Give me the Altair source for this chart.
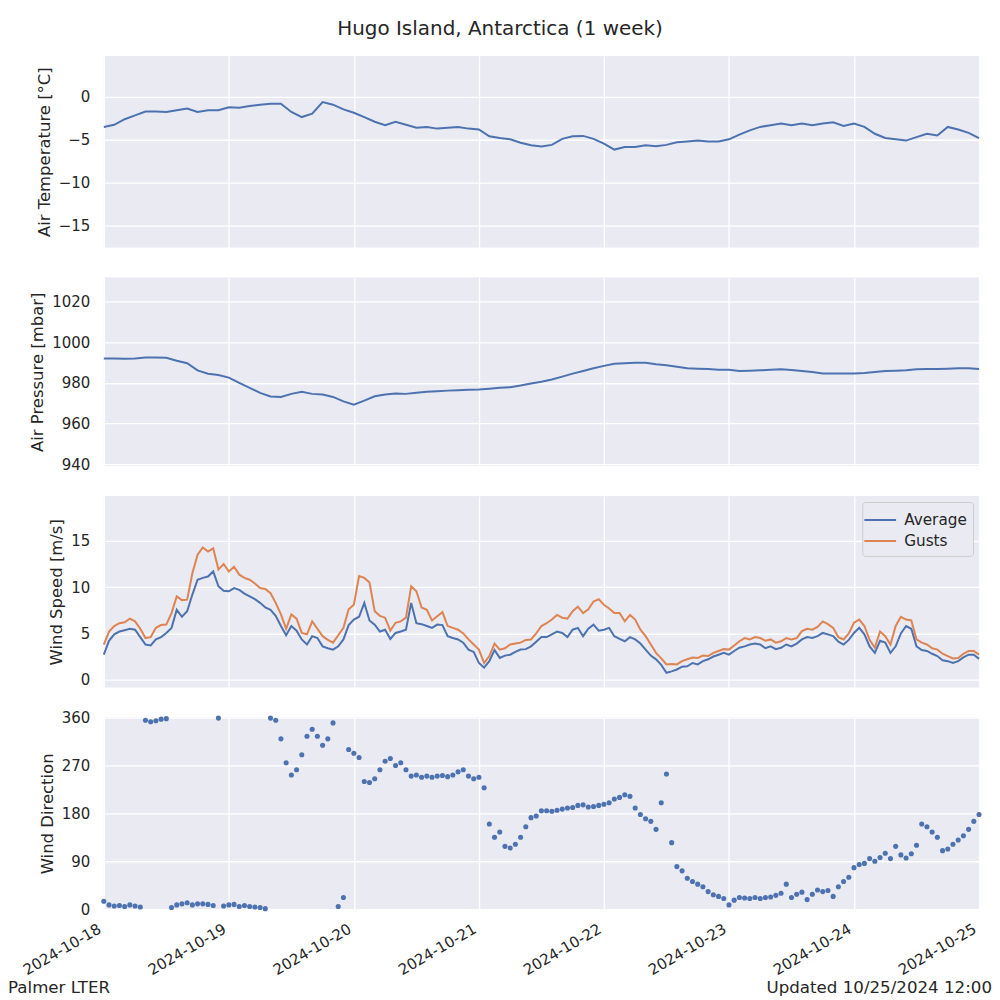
import altair as alt
import pandas as pd
from datetime import datetime, timedelta

# ---------------- data ----------------
HOURS_2 = list(range(0, 169, 2))   # 2-hourly samples
HOURS_1 = list(range(0, 169))      # hourly samples

temperature = [
    -3.5, -3.25, -2.6, -2.15, -1.7, -1.7, -1.75, -1.55, -1.35, -1.75, -1.55, -1.55,
    -1.2, -1.25, -1.05, -0.9, -0.8, -0.8, -1.75, -2.35, -1.95, -0.6, -0.9, -1.45,
    -1.85, -2.35, -2.9, -3.3, -2.9, -3.25, -3.6, -3.5, -3.7, -3.6, -3.5, -3.7,
    -3.8, -4.6, -4.8, -4.95, -5.35, -5.65, -5.8,
    -5.6, -4.9, -4.6, -4.55, -4.9, -5.45, -6.15, -5.85, -5.85, -5.65, -5.75, -5.6,
    -5.3, -5.2, -5.1, -5.2, -5.2, -4.95, -4.4, -3.9, -3.5, -3.3, -3.1, -3.3,
    -3.1, -3.3, -3.1, -2.95, -3.4, -3.1, -3.5, -4.3, -4.8, -4.95, -5.1, -4.7,
    -4.3, -4.5, -3.5, -3.8, -4.2, -4.8,
]

pressure = [
    992.0, 992.0, 991.9, 992.0, 992.5, 992.5, 992.4, 990.9, 989.7, 986.2, 984.5, 983.9,
    982.6, 980.0, 977.6, 975.1, 973.3, 973.1, 974.6, 975.6, 974.6, 974.3, 973.1, 970.9,
    969.3, 971.3, 973.4, 974.3, 974.8, 974.6, 975.1, 975.6, 975.9, 976.2, 976.4, 976.6,
    976.7, 977.1, 977.6, 977.9, 978.7, 979.7, 980.6,
    981.7, 983.1, 984.6, 985.9, 987.2, 988.4, 989.5, 989.7, 989.9, 989.9, 989.2, 988.7,
    988.0, 987.2, 987.0, 986.9, 986.5, 986.5, 985.9, 986.0, 986.2, 986.5, 986.7, 986.4,
    985.9, 985.4, 984.7, 984.6, 984.6, 984.6, 984.9, 985.4, 985.9, 986.0, 986.2, 986.7,
    986.9, 986.9, 987.0, 987.2, 987.2, 986.9,
]

# hourly wind speed, average and gusts [m/s]
wind_avg = [
    2.7, 4.2, 4.9, 5.2, 5.35, 5.5, 5.4, 4.6, 3.8, 3.7, 4.35, 4.6,
    5.05, 5.6, 7.55, 6.8, 7.4, 9.2, 10.8, 11.0, 11.15, 11.7, 10.1, 9.6,
    9.55, 9.9, 9.7, 9.3, 9.0, 8.7, 8.3, 7.8, 7.55, 6.9, 5.8, 4.8,
    5.8, 5.3, 4.35, 3.8, 4.7, 4.5, 3.6, 3.4, 3.25, 3.6, 4.35, 5.9,
    6.5, 6.8, 8.3, 6.4, 5.95, 5.2, 5.4, 4.4, 5.05, 5.2, 5.4, 8.3,
    6.1, 6.0, 5.8, 5.6, 5.95, 5.9, 4.7, 4.5, 4.35, 4.0, 3.25, 3.0,
    1.8, 1.3, 2.0, 3.2, 2.35, 2.6, 2.7, 3.0, 3.25, 3.3, 3.6, 4.1,
    4.6, 4.6, 4.9, 5.2, 5.05, 4.6, 5.4, 5.6, 4.7, 5.5, 5.95, 5.3,
    5.4, 5.6, 4.7, 4.4, 4.15, 4.6, 4.35, 3.9, 3.25, 2.6, 2.2, 1.6,
    0.75, 0.9, 1.1, 1.4, 1.45, 1.8, 1.65, 2.0, 2.2, 2.5, 2.7, 2.9,
    2.7, 3.1, 3.45, 3.6, 3.8, 3.9, 3.8, 3.4, 3.6, 3.3, 3.45, 3.8,
    3.6, 3.9, 4.35, 4.6, 4.5, 4.7, 5.05, 4.9, 4.7, 4.1, 3.8, 4.3,
    5.05, 5.6, 4.9, 3.6, 2.9, 4.2, 4.0, 2.9, 3.6, 5.0, 5.8, 5.5,
    3.6, 3.2, 3.1, 2.8, 2.55, 2.1, 2.0, 1.8, 2.0, 2.4, 2.7, 2.7,
    2.25,
]

wind_gust = [
    3.8, 5.2, 5.8, 6.1, 6.2, 6.6, 6.3, 5.5, 4.5, 4.6, 5.6, 5.9,
    5.95, 7.2, 9.0, 8.6, 8.65, 11.5, 13.5, 14.3, 13.85, 14.2, 11.9, 12.5,
    11.7, 12.2, 11.35, 11.0, 10.8, 10.4, 9.9, 9.8, 9.35, 8.3, 7.05, 5.5,
    7.05, 6.6, 5.05, 4.9, 6.3, 5.5, 4.7, 4.3, 4.0, 4.8, 5.6, 7.6,
    8.1, 11.2, 11.0, 10.5, 7.4, 6.9, 6.7, 5.3, 6.15, 6.3, 6.7, 10.1,
    9.55, 7.8, 7.55, 6.4, 6.85, 7.3, 5.8, 5.6, 5.4, 5.0, 4.35, 3.8,
    3.25, 1.8, 2.55, 3.9, 3.25, 3.4, 3.8, 3.9, 4.0, 4.3, 4.35, 5.0,
    5.8, 6.1, 6.5, 7.0, 6.7, 6.6, 7.4, 7.9, 7.2, 7.6, 8.45, 8.7,
    8.1, 7.7, 7.2, 7.2, 6.3, 7.0, 6.5, 5.4, 4.7, 3.8, 2.9, 2.3,
    1.65, 1.7, 1.65, 2.0, 2.2, 2.4, 2.35, 2.6, 2.55, 2.9, 3.1, 3.3,
    3.25, 3.7, 4.15, 4.5, 4.35, 4.6, 4.5, 4.2, 4.35, 4.0, 4.15, 4.5,
    4.35, 4.5, 5.25, 5.5, 5.4, 5.7, 6.3, 6.0, 5.6, 4.6, 4.35, 5.0,
    6.15, 6.5, 5.8, 4.3, 3.45, 5.2, 4.7, 3.8, 5.8, 6.8, 6.5, 6.4,
    4.35, 4.0, 3.8, 3.4, 3.25, 2.8, 2.55, 2.3, 2.35, 2.8, 3.1, 3.1,
    2.7,
]

# hourly wind direction [deg]
wind_dir = [
    15, 8, 6, 7, 5, 8, 6, 4, 355, 352,
    354, 357, 358, 3, 8, 10, 12, 8, 10, 10,
    9, 7, 359, 6, 8, 9, 5, 7, 5, 4,
    3, 1, 359, 355, 320, 275, 252, 262, 290, 325,
    338, 325, 308, 320, 350, 5, 22, 300, 293, 285,
    240, 238, 245, 262, 278, 283, 270, 275, 262, 250,
    252, 248, 250, 248, 250, 251, 249, 252, 258, 262,
    250, 245, 248, 228, 160, 135, 145, 118, 115, 122,
    135, 155, 172, 175, 185, 185, 184, 186, 188, 190,
    191, 195, 196, 192, 193, 195, 197, 200, 207, 210,
    215, 212, 190, 178, 170, 165, 150, 200, 254, 125,
    80, 72, 58, 52, 47, 42, 33, 27, 24, 20,
    8, 17, 22, 21, 20, 22, 20, 22, 23, 26,
    30, 47, 22, 28, 32, 18, 28, 36, 33, 35,
    24, 42, 52, 60, 78, 84, 86, 95, 90, 97,
    105, 95, 118, 102, 96, 104, 120, 160, 155, 145,
    135, 110, 113, 122, 130, 138, 150, 165, 178,
]

DAYS = [18, 19, 20, 21, 22, 23, 24, 25]
SERIES = ["Average", "Gusts"]
TITLE = "Hugo Island, Antarctica (1 week)"
FOOT_LEFT = "Palmer LTER"
FOOT_RIGHT = "Updated 10/25/2024 12:00"

# ---------------- tables ----------------
BASE = datetime(2024, 10, 18)


def ts(h):
    return (BASE + timedelta(hours=h)).strftime("%Y-%m-%dT%H:%M:%SZ")


df_t = pd.DataFrame({"time": [ts(h) for h in HOURS_2], "v": temperature})
df_p = pd.DataFrame({"time": [ts(h) for h in HOURS_2], "v": pressure})
df_w = pd.DataFrame({
    "time": [ts(h) for h in HOURS_1] * 2,
    "v": wind_avg + wind_gust,
    "series": [SERIES[0]] * len(HOURS_1) + [SERIES[1]] * len(HOURS_1),
})
df_d = pd.DataFrame({"time": [ts(h) for h in HOURS_1], "v": wind_dir})

# ---------------- style ----------------
BLUE = "#4C72B0"
ORANGE = "#DD8452"
TXT = "#262626"
W, H = 877, 192

day_vals = [alt.DateTime(year=2024, month=10, date=d, utc=True) for d in DAYS]
x_scale = alt.Scale(type="utc", domain=[day_vals[0], day_vals[-1]])

x_hidden = alt.X("time:T", scale=x_scale,
                 axis=alt.Axis(values=day_vals, labels=False, title=None, grid=True,
                               domain=False, ticks=False, minExtent=0, maxExtent=0,
                               labelPadding=0))
x_shown = alt.X("time:T", scale=x_scale,
                axis=alt.Axis(values=day_vals, format="%Y-%m-%d", labelAngle=-30,
                              labelAlign="right", labelBaseline="top", title=None,
                              grid=True, domain=False, ticks=False,
                              labelPadding=12, labelOffset=-8))


def yax(title, values, fmt="d"):
    return alt.Axis(title=title, values=values, format=fmt, grid=True, domain=False,
                    ticks=False, labelPadding=14, titlePadding=6)


temp_chart = alt.Chart(df_t).mark_line(color=BLUE, strokeWidth=2).encode(
    x=x_hidden,
    y=alt.Y("v:Q", scale=alt.Scale(domain=[-17.6, 4.8], nice=False, zero=False),
            axis=yax("Air Temperature [°C]", [-15, -10, -5, 0])),
).properties(width=W, height=H)

pres_chart = alt.Chart(df_p).mark_line(color=BLUE, strokeWidth=2).encode(
    x=x_hidden,
    y=alt.Y("v:Q", scale=alt.Scale(domain=[939, 1032], nice=False, zero=False),
            axis=yax("Air Pressure [mbar]", [940, 960, 980, 1000, 1020])),
).properties(width=W, height=H - 3)

wind_chart = alt.Chart(df_w).mark_line(strokeWidth=2).encode(
    x=x_hidden,
    y=alt.Y("v:Q", scale=alt.Scale(domain=[-0.86, 19.85], nice=False, zero=False),
            axis=yax("Wind Speed [m/s]", [0, 5, 10, 15])),
    color=alt.Color("series:N",
                    scale=alt.Scale(domain=SERIES, range=[BLUE, ORANGE]),
                    legend=alt.Legend(title=None, orient="top-right", offset=6,
                                      fillColor="#EAEAF2", strokeColor="#CCCCCC",
                                      cornerRadius=3, padding=6, labelFontSize=15.3,
                                      labelColor=TXT, symbolType="M-1.5,0H1.5",
                                      symbolSize=450, symbolStrokeWidth=2,
                                      labelOffset=12, rowPadding=0)),
).properties(width=W, height=H)

dir_points = alt.Chart(df_d).mark_circle(size=26, opacity=1, color=BLUE).encode(
    x=x_shown,
    y=alt.Y("v:Q", scale=alt.Scale(domain=[0, 360], nice=False, zero=False),
            axis=yax("Wind Direction", [0, 90, 180, 270, 360])),
)

foot_l = alt.Chart(pd.DataFrame({"t": [FOOT_LEFT]})).mark_text(
    align="left", baseline="alphabetic", fontSize=16.7, color=TXT
).encode(x=alt.value(-96), y=alt.value(276), text="t:N")

foot_r = alt.Chart(pd.DataFrame({"t": [FOOT_RIGHT]})).mark_text(
    align="right", baseline="alphabetic", fontSize=16.7, color=TXT
).encode(x=alt.value(890), y=alt.value(276), text="t:N")

dir_chart = alt.layer(dir_points, foot_l, foot_r).properties(width=W, height=H)

chart = alt.vconcat(
    temp_chart, pres_chart, wind_chart, dir_chart, spacing=30, bounds="flush"
).resolve_legend(
    color="independent"
).properties(
    title=alt.TitleParams(TITLE, fontSize=20, fontWeight="normal", anchor="middle",
                          color=TXT, offset=17),
    padding={"left": 0, "top": 10, "right": 0, "bottom": 0},
).configure(
    font="DejaVu Sans",
).configure_view(
    fill="#EAEAF2", strokeWidth=0,
).configure_axis(
    gridColor="#FFFFFF", gridWidth=1.3, gridOpacity=1,
    labelFontSize=15, labelColor=TXT, titleFontSize=16.5, titleFontWeight="normal",
    titleColor=TXT, tickSize=0,
)

chart.save("out.html", embed_options={"renderer": "svg", "actions": False})
